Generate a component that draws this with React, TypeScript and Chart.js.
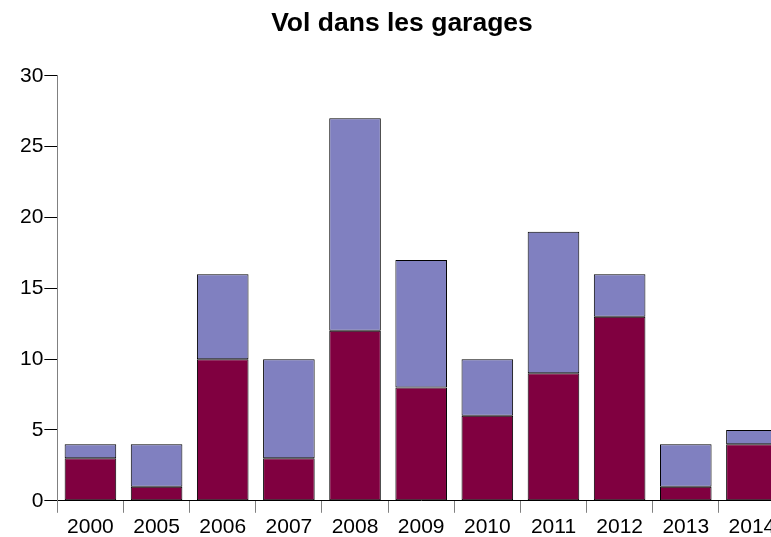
import React, { useEffect, useRef } from "react";
import { Chart, registerables } from "chart.js";

Chart.register(...registerables);

const categories = ["2000", "2005", "2006", "2007", "2008", "2009", "2010", "2011", "2012", "2013", "2014"];
const bottomValues = [3, 1, 10, 3, 12, 8, 6, 9, 13, 1, 4];
const topValues = [1, 3, 6, 7, 15, 9, 4, 10, 3, 3, 1];
const titleText = "Vol dans les garages";

export default function App() {
  const ref = useRef<HTMLCanvasElement>(null);
  useEffect(() => {
    const ctx = ref.current!;
    const chart = new Chart(ctx, {
      type: "bar",
      data: {
        labels: categories,
        datasets: [
          {
            data: bottomValues,
            backgroundColor: "#800040",
            borderColor: "#000000",
            borderWidth: 1,
            borderSkipped: false,
            categoryPercentage: 0.78,
            barPercentage: 1,
          },
          {
            data: topValues,
            backgroundColor: "#8080C0",
            borderColor: "#000000",
            borderWidth: 1,
            borderSkipped: false,
            categoryPercentage: 0.78,
            barPercentage: 1,
          },
        ],
      },
      options: {
        animation: false,
        responsive: false,
        maintainAspectRatio: false,
        layout: { padding: { left: 19, right: 69, top: 0, bottom: 0 } },
        plugins: {
          legend: { display: false },
          tooltip: { enabled: false },
          title: {
            display: true,
            text: titleText,
            color: "#000000",
            font: { family: "'Liberation Sans', Arial, sans-serif", size: 26.5, weight: "bold" },
            padding: { top: 8, bottom: 36 },
          },
        },
        scales: {
          x: {
            stacked: true,
            offset: true,
            grid: {
              display: true,
              offset: true,
              drawOnChartArea: false,
              drawTicks: true,
              tickLength: 12,
              color: "#808080",
            },
            border: { display: true, color: "#000000", width: 1 },
            ticks: {
              color: "#000000",
              padding: 2,
              maxRotation: 0,
              autoSkip: false,
              font: { family: "'Liberation Sans', Arial, sans-serif", size: 21 },
            },
          },
          y: {
            stacked: true,
            min: 0,
            max: 30,
            grid: {
              display: true,
              drawOnChartArea: false,
              drawTicks: true,
              tickLength: 13,
              color: "#000000",
            },
            border: { display: true, color: "#808080", width: 1 },
            ticks: {
              stepSize: 5,
              color: "#000000",
              padding: 1,
              font: { family: "'Liberation Sans', Arial, sans-serif", size: 21 },
            },
          },
        },
      },
    });
    return () => chart.destroy();
  }, []);
  return (
    <div style={{ position: "fixed", left: 0, top: 0, width: 771, height: 537, overflow: "hidden", background: "#fff" }}>
      <canvas ref={ref} width={854} height={542} style={{ display: "block", width: 854, height: 542 }} />
    </div>
  );
}
